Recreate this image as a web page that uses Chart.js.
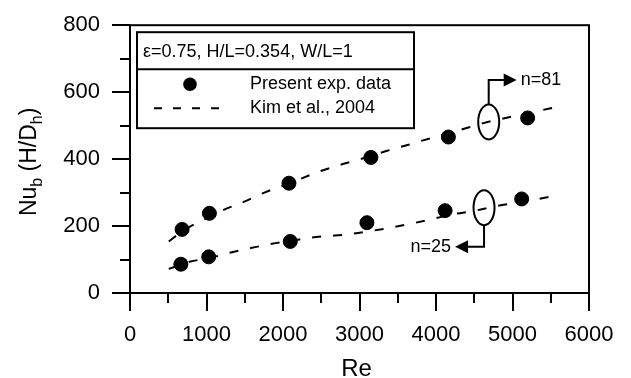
<!DOCTYPE html>
<html><head><meta charset="utf-8">
<script src="https://cdn.jsdelivr.net/npm/chart.js@4"></script>
<style>html,body{margin:0;padding:0;background:#fff}#wrap{width:631px;height:378px;position:relative}</style>
</head><body><div id="wrap"><canvas id="c"></canvas></div>
<script>
const FONT = '"Liberation Sans", Arial, Helvetica, sans-serif';

// axis ticks
const xTicks = [0, 1000, 2000, 3000, 4000, 5000, 6000];
const yTicks = [0, 200, 400, 600, 800];
const xMinorTicks = [500, 1500, 2500, 3500, 4500, 5500];
const yMinorTicks = [100, 300, 500, 700];

// Present exp. data, n=81
const reExp81 = [681, 1038, 2078, 3149, 4162, 5198];
const nuExp81 = [190, 238, 328, 405, 466, 523];
// Present exp. data, n=25
const reExp25 = [665, 1029, 2095, 3097, 4119, 5120];
const nuExp25 = [86, 108, 154, 210, 246, 281];

// Kim et al., 2004 (n=81)
const reKim81 = [507, 681, 1038, 1211, 1495, 1756, 2078, 2474, 2735, 3039, 3350, 3640, 3770, 4240, 4663, 5098, 5316, 5555, 5650];
const nuKim81 = [154, 184, 228, 247, 273, 300, 327, 363, 382, 402, 424, 443, 452, 482, 510, 532, 543, 555, 562];
// Kim et al., 2004 (n=25)
const reKim25 = [507, 668, 790, 1029, 1334, 1595, 1856, 2086, 2379, 2650, 2909, 3170, 3431, 3692, 3953, 4214, 4510, 4771, 5031, 5292, 5553, 5611];
const nuKim25 = [72, 85, 94, 104, 122, 135, 147, 155, 166, 171, 177, 186, 196, 208, 221, 235, 246, 259, 269, 279, 291, 294];

// annotations: ellipse centres, arrow bend level and arrow tip
const noteLabels = ['n=81', 'n=25'];
const noteRe = [4689, 4628];
const noteNu = [511, 255];
const noteBendNu = [636, 138];
const noteTipRe = [5055, 4249];

const legendTitle = '\u03B5=0.75, H/L=0.354, W/L=1';
const legendLabels = ['Present exp. data', 'Kim et al., 2004'];

const pts = (xs, ys) => xs.map((v, i) => ({x: v, y: ys[i]}));

const decor = {
  id: 'decor',
  afterDraw(chart) {
    const {ctx, chartArea: a, scales: {x, y}} = chart;
    ctx.save();
    ctx.strokeStyle = '#000'; ctx.fillStyle = '#000'; ctx.lineWidth = 2;
    // frame
    ctx.strokeRect(a.left, a.top, a.right - a.left, a.bottom - a.top);
    // minor ticks
    ctx.beginPath();
    yMinorTicks.forEach(v => { const p = Math.round(y.getPixelForValue(v)); ctx.moveTo(a.left - 10, p); ctx.lineTo(a.left, p); });
    xMinorTicks.forEach(v => { const p = Math.round(x.getPixelForValue(v)); ctx.moveTo(p, a.bottom); ctx.lineTo(p, a.bottom + 10); });
    ctx.stroke();

    // legend box
    const L = a.left + 7, T = a.top + 7, W = 277, H = 96;
    ctx.fillStyle = '#fff'; ctx.fillRect(L, T, W, H); ctx.fillStyle = '#000';
    ctx.strokeRect(L, T, W, H);
    ctx.beginPath(); ctx.moveTo(L, T + 37); ctx.lineTo(L + W, T + 37); ctx.stroke();
    ctx.font = '18px ' + FONT; ctx.textBaseline = 'middle'; ctx.textAlign = 'left';
    ctx.fillText(legendTitle, L + 6, T + 20);
    ctx.beginPath(); ctx.arc(L + 53, T + 52, 6.8, 0, Math.PI * 2); ctx.fill();
    ctx.save(); ctx.setLineDash([8, 11]); ctx.beginPath(); ctx.moveTo(L + 17, T + 76); ctx.lineTo(L + 90, T + 76); ctx.stroke(); ctx.restore();
    ctx.fillText(legendLabels[0], L + 113, T + 52);
    ctx.fillText(legendLabels[1], L + 113, T + 76);

    // ellipses and arrows
    noteLabels.forEach((lab, i) => {
      const cx = x.getPixelForValue(noteRe[i]), cy = y.getPixelForValue(noteNu[i]);
      const rx = 10.5, ry = 17.5;
      const by = y.getPixelForValue(noteBendNu[i]);
      const tx = x.getPixelForValue(noteTipRe[i]);
      ctx.beginPath(); ctx.ellipse(cx, cy, rx, ry, 0, 0, Math.PI * 2); ctx.stroke();
      const up = by < cy;
      const dir = tx > cx ? 1 : -1;
      ctx.beginPath();
      ctx.moveTo(cx, up ? cy - ry : cy + ry);
      ctx.lineTo(cx, by);
      ctx.lineTo(tx - dir * 12, by);
      ctx.stroke();
      ctx.beginPath();
      ctx.moveTo(tx - dir * 13, by - 6.5); ctx.lineTo(tx, by); ctx.lineTo(tx - dir * 13, by + 6.5); ctx.closePath(); ctx.fill();
      ctx.font = '18px ' + FONT; ctx.textBaseline = 'middle';
      ctx.textAlign = dir > 0 ? 'left' : 'right';
      ctx.fillText(lab, tx + dir * 4, by);
    });

    // x title
    ctx.font = '24px ' + FONT; ctx.textAlign = 'center'; ctx.textBaseline = 'alphabetic';
    ctx.fillText('Re', (a.left + a.right) / 2 - 3, 376);

    // y title with subscripts
    ctx.save();
    ctx.translate(36, (a.top + a.bottom) / 2 + 57);
    ctx.rotate(-Math.PI / 2);
    ctx.textAlign = 'left'; ctx.textBaseline = 'alphabetic';
    const parts = [['Nu', 23, 0], ['b', 16, 6], [' (H/D', 23, 0], ['h', 16, 6], [')', 23, 0]];
    let px = 0;
    parts.forEach(([t, s, dy]) => { ctx.font = s + 'px ' + FONT; ctx.fillText(t, px, dy); px += ctx.measureText(t).width; });
    ctx.restore();
    ctx.restore();
  }
};

new Chart(document.getElementById('c'), {
  type: 'scatter',
  data: {
    datasets: [
      {label: 'Kim81', type: 'line', data: pts(reKim81, nuKim81), borderColor: '#000', borderWidth: 2, borderDash: [9, 12], pointRadius: 0, cubicInterpolationMode: 'monotone', fill: false},
      {label: 'Kim25', type: 'line', data: pts(reKim25, nuKim25), borderColor: '#000', borderWidth: 2, borderDash: [9, 12], pointRadius: 0, cubicInterpolationMode: 'monotone', fill: false},
      {label: 'Exp81', data: pts(reExp81, nuExp81), backgroundColor: '#000', borderColor: '#000', pointRadius: 7, pointHoverRadius: 7},
      {label: 'Exp25', data: pts(reExp25, nuExp25), backgroundColor: '#000', borderColor: '#000', pointRadius: 7, pointHoverRadius: 7}
    ]
  },
  options: {
    responsive: true, maintainAspectRatio: false, animation: false, devicePixelRatio: 1,
    layout: {padding: {top: 17, right: 42, left: 0, bottom: 0}},
    plugins: {legend: {display: false}, tooltip: {enabled: false}},
    scales: {
      x: {
        type: 'linear', min: 0, max: 6000,
        afterBuildTicks: s => { s.ticks = xTicks.map(v => ({value: v})); },
        afterFit: s => { s.height = 85; },
        border: {display: false},
        grid: {drawOnChartArea: false, drawTicks: true, tickLength: 18, color: '#000', lineWidth: 2},
        ticks: {color: '#000', font: {size: 22, family: FONT}, padding: 11, maxRotation: 0, autoSkip: false, callback: v => String(v)}
      },
      y: {
        type: 'linear', min: 0, max: 800,
        afterBuildTicks: s => { s.ticks = yTicks.map(v => ({value: v})); },
        afterFit: s => { s.width = 130; },
        border: {display: false},
        grid: {drawOnChartArea: false, drawTicks: true, tickLength: 18, color: '#000', lineWidth: 2},
        ticks: {color: '#000', font: {size: 22, family: FONT}, padding: 12, autoSkip: false, callback: v => String(v)}
      }
    }
  },
  plugins: [decor]
});
</script></body></html>
